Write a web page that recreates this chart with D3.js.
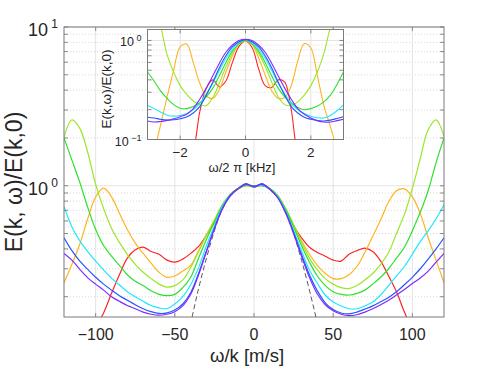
<!DOCTYPE html>
<html>
<head>
<meta charset="utf-8">
<script src="https://cdn.jsdelivr.net/npm/d3@7"></script>
<style>
    body { margin: 0; background: #fff; }
    text { font-family: "Liberation Sans", Arial, Helvetica, sans-serif; fill: #262626; }
</style>
</head>
<body>
<div id="chart-area"></div>
<script>
// main panel: E(k,w)/E(k,0) against w/k [m/s]
const velocity = [-120,-115,-110,-105,-100,-95,-90,-85,-80,-75,-70,-65,-60,-55,-50,-45,-40,-35,-30,-25,-20,-15,-10,-5,
    0,5,10,15,20,25,30,35,40,45,50,55,60,65,70,75,80,85,90,95,100,105,110,115,120];

const redMain = [0.07,0.08,0.095,0.11,0.13,0.158,0.21,0.275,0.35,0.395,0.41,0.385,0.37,0.34,0.33,0.345,0.375,0.415,0.49,0.59,0.74,0.88,0.96,1.01,
    0.99,1.02,0.96,0.85,0.69,0.56,0.47,0.41,0.38,0.36,0.34,0.335,0.37,0.39,0.405,0.385,0.335,0.27,0.215,0.16,0.125,0.105,0.09,0.08,0.07];
const orangeMain = [0.245,0.32,0.43,0.62,0.85,0.965,0.85,0.67,0.53,0.435,0.375,0.325,0.285,0.265,0.27,0.29,0.315,0.39,0.49,0.60,0.74,0.87,0.95,1.0,
    0.99,1.01,0.95,0.85,0.70,0.56,0.45,0.37,0.315,0.28,0.26,0.26,0.275,0.31,0.38,0.48,0.61,0.79,0.93,0.955,0.85,0.67,0.47,0.34,0.245];
const limeMain = [2.02,2.6,2.3,1.62,1.02,0.72,0.54,0.44,0.37,0.32,0.285,0.26,0.24,0.23,0.235,0.255,0.305,0.385,0.49,0.61,0.76,0.88,0.96,1.0,
    0.98,1.01,0.96,0.87,0.72,0.57,0.44,0.35,0.295,0.26,0.24,0.228,0.225,0.235,0.255,0.28,0.32,0.38,0.50,0.66,0.96,1.48,2.25,2.6,2.04];
const greenMain = [2.0,1.45,1.05,0.73,0.53,0.42,0.36,0.315,0.275,0.25,0.235,0.218,0.207,0.203,0.207,0.228,0.265,0.35,0.46,0.59,0.75,0.88,0.96,1.01,
    0.99,1.0,0.96,0.86,0.71,0.55,0.42,0.33,0.27,0.235,0.215,0.207,0.205,0.21,0.22,0.24,0.265,0.30,0.35,0.41,0.52,0.68,0.93,1.4,2.0];
const cyanMain = [0.74,0.55,0.45,0.385,0.335,0.295,0.262,0.237,0.215,0.2,0.187,0.176,0.17,0.168,0.18,0.2,0.238,0.305,0.42,0.56,0.74,0.87,0.96,1.02,
    0.99,1.01,0.95,0.85,0.69,0.52,0.39,0.295,0.243,0.205,0.185,0.175,0.168,0.168,0.175,0.185,0.205,0.235,0.27,0.31,0.37,0.445,0.52,0.62,0.76];
const blueMain = [0.47,0.39,0.335,0.297,0.265,0.24,0.22,0.203,0.19,0.178,0.168,0.161,0.157,0.158,0.165,0.18,0.212,0.28,0.39,0.54,0.72,0.87,0.96,1.02,
    0.99,1.02,0.95,0.84,0.68,0.51,0.37,0.275,0.218,0.183,0.166,0.158,0.156,0.16,0.167,0.175,0.186,0.198,0.215,0.238,0.265,0.30,0.345,0.40,0.47];
const violetMain = [0.375,0.34,0.297,0.263,0.24,0.22,0.2,0.187,0.176,0.168,0.16,0.155,0.153,0.155,0.161,0.175,0.207,0.275,0.385,0.535,0.715,0.86,0.96,1.03,
    0.98,1.03,0.95,0.84,0.67,0.50,0.36,0.265,0.208,0.178,0.163,0.155,0.152,0.154,0.16,0.168,0.178,0.19,0.205,0.222,0.242,0.262,0.29,0.33,0.375];

// dashed reference curve (hidden under the bundle near the top)
const fitVelocity = [-45,-40,-35,-30,-25,-20,-15,-10,-5,0,5,10,15,20,25,30,35,40,45];
const fitValue = [0.075,0.135,0.225,0.35,0.52,0.71,0.86,0.95,1.0,1.0,1.0,0.95,0.85,0.69,0.5,0.34,0.22,0.135,0.075];

// inset: same quantity against w/2pi [kHz]
const freq = [-3,-2.8,-2.6,-2.4,-2.2,-2,-1.8,-1.6,-1.4,-1.2,-1,-0.8,-0.6,-0.4,-0.2,
    0,0.2,0.4,0.6,0.8,1,1.2,1.4,1.6,1.8,2,2.2,2.4,2.6,2.8,3];

const redInset = [0.02,0.025,0.03,0.035,0.045,0.055,0.065,0.08,0.19,0.33,0.40,0.34,0.39,0.60,0.87,
    0.98,0.85,0.52,0.35,0.335,0.40,0.38,0.2,0.075,0.06,0.05,0.04,0.035,0.03,0.025,0.02];
const orangeInset = [0.045,0.075,0.14,0.27,0.5,0.86,0.92,0.6,0.37,0.275,0.26,0.32,0.48,0.70,0.92,
    0.98,0.91,0.67,0.45,0.31,0.26,0.265,0.35,0.62,0.93,0.84,0.44,0.22,0.135,0.08,0.05];
const limeInset = [5.0,2.3,1.4,0.72,0.48,0.35,0.285,0.245,0.225,0.22,0.265,0.37,0.54,0.74,0.92,
    1.0,0.92,0.74,0.55,0.38,0.27,0.225,0.22,0.24,0.28,0.35,0.48,0.74,1.38,2.3,5.0];
const greenInset = [0.48,0.39,0.31,0.26,0.225,0.207,0.205,0.215,0.235,0.27,0.33,0.44,0.60,0.78,0.93,
    1.0,0.93,0.78,0.60,0.44,0.33,0.27,0.235,0.21,0.2,0.205,0.218,0.24,0.28,0.36,0.48];
const cyanInset = [0.222,0.205,0.19,0.176,0.172,0.175,0.183,0.20,0.23,0.29,0.37,0.50,0.66,0.82,0.95,
    1.02,0.95,0.82,0.66,0.50,0.37,0.29,0.23,0.2,0.183,0.172,0.166,0.165,0.175,0.195,0.224];
const blueInset = [0.168,0.165,0.16,0.157,0.158,0.162,0.169,0.185,0.215,0.28,0.38,0.53,0.70,0.86,0.97,
    1.02,0.97,0.86,0.70,0.53,0.38,0.28,0.215,0.185,0.168,0.16,0.155,0.154,0.157,0.163,0.17];
const violetInset = [0.154,0.15,0.152,0.156,0.162,0.17,0.18,0.205,0.255,0.33,0.44,0.59,0.76,0.90,1.0,
    1.03,1.0,0.90,0.76,0.59,0.44,0.33,0.255,0.205,0.18,0.165,0.155,0.15,0.15,0.155,0.16];

const mainSeries = [redMain, orangeMain, limeMain, greenMain, cyanMain, blueMain, violetMain];
const insetSeries = [redInset, orangeInset, limeInset, greenInset, cyanInset, blueInset, violetInset];
const colors = ["#ff2424", "#ffb320", "#9be628", "#2ee02e", "#1ee8ff", "#2456ff", "#7d2cff"];

const mainXTicks = [-100, -50, 0, 50, 100];
const mainYMajor = [1, 10];
const mainYMinor = [0.2,0.3,0.4,0.5,0.6,0.7,0.8,0.9,2,3,4,5,6,7,8,9];
const insetXTicks = [-2, 0, 2];
const insetYMajor = [0.1, 1];
const insetYMinor = [0.2,0.3,0.4,0.5,0.6,0.7,0.8,0.9];

const svg = d3.select("#chart-area")
    .append("svg")
    .attr("width", 491)
    .attr("height", 368);

const fmt = d3.format("d");

function drawPanel(p) {
    const b = p.box;
    const x = d3.scaleLinear().domain(p.xDomain).range([b.left, b.right]);
    const y = d3.scaleLog().domain(p.yDomain).range([b.bottom, b.top]);
    const g = svg.append("g");

    g.append("rect")
        .attr("x", b.left).attr("y", b.top)
        .attr("width", b.right - b.left).attr("height", b.bottom - b.top)
        .attr("fill", "#fff");

    // grid
    g.selectAll(".gminor").data(p.yMinor).enter().append("line")
        .attr("x1", b.left).attr("x2", b.right)
        .attr("y1", d => y(d)).attr("y2", d => y(d))
        .attr("stroke", "#c8c8c8").attr("stroke-width", 0.7)
        .attr("stroke-dasharray", "1,2");
    g.selectAll(".gmajor").data(p.yMajor).enter().append("line")
        .attr("x1", b.left).attr("x2", b.right)
        .attr("y1", d => y(d)).attr("y2", d => y(d))
        .attr("stroke", "#e3e3e3").attr("stroke-width", 1);
    g.selectAll(".gx").data(p.xTicks).enter().append("line")
        .attr("x1", d => x(d)).attr("x2", d => x(d))
        .attr("y1", b.top).attr("y2", b.bottom)
        .attr("stroke", "#e3e3e3").attr("stroke-width", 1);

    // curves
    g.append("clipPath").attr("id", p.id)
        .append("rect")
        .attr("x", b.left).attr("y", b.top)
        .attr("width", b.right - b.left).attr("height", b.bottom - b.top);
    const plot = g.append("g").attr("clip-path", "url(#" + p.id + ")");

    if (p.fit) {
        const fitLine = d3.line()
            .x((d, j) => x(fitVelocity[j]))
            .y(d => y(d))
            .curve(d3.curveCatmullRom);
        plot.append("path")
            .attr("d", fitLine(fitValue))
            .attr("fill", "none")
            .attr("stroke", "#303030")
            .attr("stroke-width", 0.8)
            .attr("stroke-dasharray", "5,3");
    }

    p.series.forEach((vals, i) => {
        const line = d3.line()
            .x((d, j) => x(p.xs[j]))
            .y(d => y(d))
            .curve(d3.curveCatmullRom);
        plot.append("path")
            .attr("d", line(vals))
            .attr("fill", "none")
            .attr("stroke", colors[i])
            .attr("stroke-width", p.lineWidth);
    });

    // ticks (inside, all four sides)
    const tk = 4;
    const tickColor = "#6e6e6e";
    p.xTicks.forEach(d => {
        g.append("line").attr("x1", x(d)).attr("x2", x(d))
            .attr("y1", b.bottom).attr("y2", b.bottom - tk)
            .attr("stroke", tickColor).attr("stroke-width", 0.8);
        g.append("line").attr("x1", x(d)).attr("x2", x(d))
            .attr("y1", b.top).attr("y2", b.top + tk)
            .attr("stroke", tickColor).attr("stroke-width", 0.8);
    });
    p.yMajor.concat(p.yMinor).forEach(d => {
        g.append("line").attr("x1", b.left).attr("x2", b.left + tk)
            .attr("y1", y(d)).attr("y2", y(d))
            .attr("stroke", tickColor).attr("stroke-width", 0.8);
        g.append("line").attr("x1", b.right).attr("x2", b.right - tk)
            .attr("y1", y(d)).attr("y2", y(d))
            .attr("stroke", tickColor).attr("stroke-width", 0.8);
    });

    g.append("rect")
        .attr("x", b.left).attr("y", b.top)
        .attr("width", b.right - b.left).attr("height", b.bottom - b.top)
        .attr("fill", "none")
        .attr("stroke", "#7a7a7a")
        .attr("stroke-width", 1);

    // tick labels
    g.selectAll(".xl").data(p.xTicks).enter().append("text")
        .attr("x", d => x(d))
        .attr("y", b.bottom + p.xLabelGap)
        .attr("text-anchor", "middle")
        .attr("font-size", p.tickFont)
        .text(d => fmt(d));

    p.yMajor.forEach(d => {
        const t = g.append("text")
            .attr("x", b.left - p.yLabelGap)
            .attr("y", y(d) + p.baseShift)
            .attr("text-anchor", "end")
            .attr("font-size", p.decadeFont);
        t.append("tspan").text("10");
        t.append("tspan")
            .attr("dy", -p.supRaise)
            .attr("font-size", p.supFont)
            .text(" " + fmt(Math.round(Math.log10(d))));
    });

    // axis titles
    g.append("text")
        .attr("x", p.xTitle[0]).attr("y", p.xTitle[1])
        .attr("text-anchor", "middle")
        .attr("font-size", p.titleFont)
        .text(p.xText);
    g.append("text")
        .attr("transform", "translate(" + p.yTitle[0] + "," + p.yTitle[1] + ") rotate(-90)")
        .attr("text-anchor", "middle")
        .attr("font-size", p.yTitleFont)
        .text(p.yText);
}

drawPanel({
    id: "clip-main",
    box: {left: 64, top: 27, right: 444, bottom: 317},
    xDomain: [-120, 120], yDomain: [0.149, 10],
    xs: velocity, series: mainSeries, fit: true,
    xTicks: mainXTicks, yMajor: mainYMajor, yMinor: mainYMinor,
    lineWidth: 1.2,
    tickFont: 16, xLabelGap: 23,
    decadeFont: 18, supFont: 12, supRaise: 8, baseShift: 9, yLabelGap: 6,
    titleFont: 18.5, yTitleFont: 23,
    xTitle: [247, 362], xText: "ω/k [m/s]",
    yTitle: [22, 182], yText: "E(k, ω)/E(k,0)"
});

drawPanel({
    id: "clip-inset",
    box: {left: 147.5, top: 29.5, right: 343.5, bottom: 139.5},
    xDomain: [-3, 3], yDomain: [0.1, 1.29],
    xs: freq, series: insetSeries, fit: false,
    xTicks: insetXTicks, yMajor: insetYMajor, yMinor: insetYMinor,
    lineWidth: 1.1,
    tickFont: 13.5, xLabelGap: 17,
    decadeFont: 12.5, supFont: 9, supRaise: 5, baseShift: 6, yLabelGap: 6,
    titleFont: 13, yTitleFont: 13.5,
    xTitle: [242, 172], xText: "ω/2 π [kHz]",
    yTitle: [111, 89], yText: "E(k,ω)/E(k,0)"
});
</script>
</body>
</html>
